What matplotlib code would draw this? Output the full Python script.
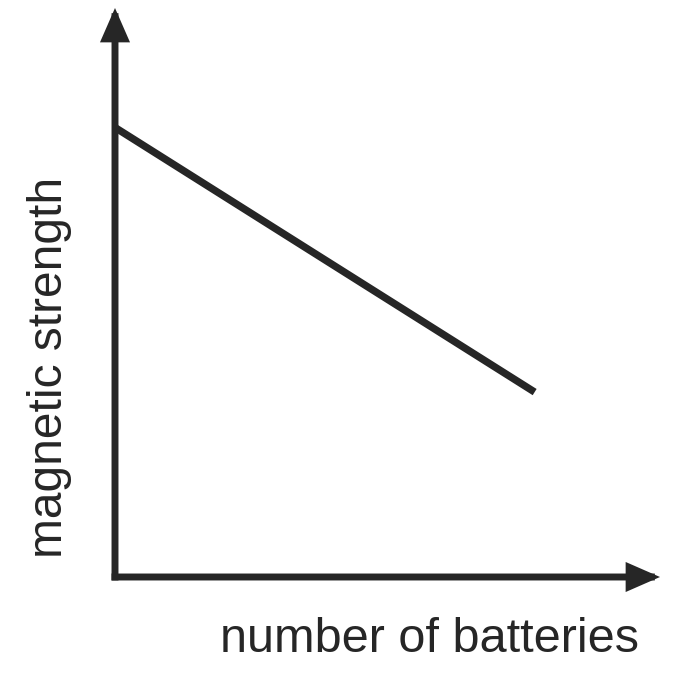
import matplotlib.pyplot as plt
from matplotlib.patches import FancyArrowPatch

plt.rcParams['font.family'] = ['Liberation Sans', 'DejaVu Sans']

# straight line: magnetic strength falls as batteries are added
batteries = [0.0, 7.7]
strength = [7.9, 3.25]

ink = '#262626'

fig = plt.figure(figsize=(6.92, 6.89), dpi=100)
# axes box: origin at the corner of the two axis lines
ax = fig.add_axes([115 / 692, (689 - 577) / 689, 545 / 692, 569 / 689])
ax.set_xlim(0, 10)
ax.set_ylim(0, 10)
ax.axis('off')

# axis lines with filled arrowheads
for end in [(10, 0), (0, 10)]:
    arr = FancyArrowPatch((0, 0), end, arrowstyle='-|>,head_length=0.8,head_width=0.35',
                          mutation_scale=20, lw=5, color=ink, shrinkA=0, shrinkB=0,
                          joinstyle='miter', capstyle='projecting', clip_on=False)
    ax.add_patch(arr)

ax.plot(batteries, strength, color=ink, lw=5.3, solid_capstyle='butt', clip_on=False)

fig.text(50 / 692, 1 - 367 / 689, 'magnetic strength', rotation=90, fontsize=34.5,
         color=ink, ha='center', va='center')
fig.text(430 / 692, 1 - 640 / 689, 'number of batteries', fontsize=35,
         color=ink, ha='center', va='center')

fig.savefig('out.png', dpi=100, facecolor='white')
